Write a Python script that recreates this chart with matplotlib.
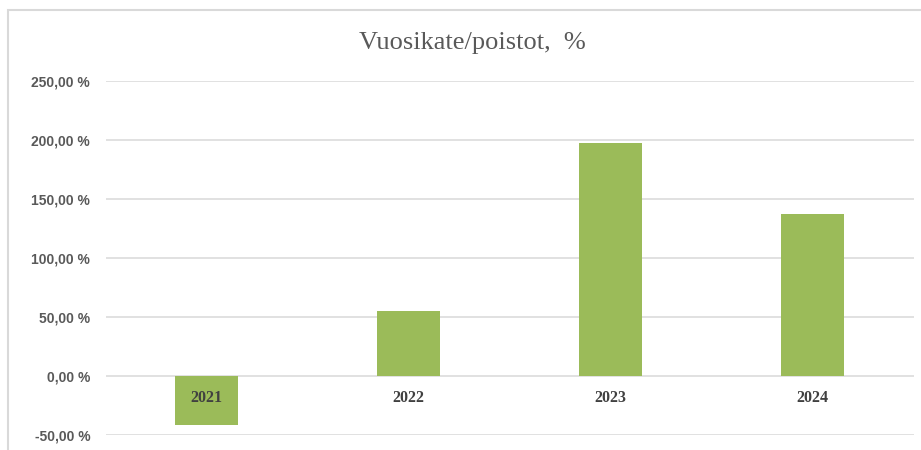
import matplotlib
matplotlib.use('Agg')
import matplotlib.pyplot as plt
from matplotlib.patches import Rectangle
from matplotlib.ticker import FuncFormatter

# data
years = ['2021', '2022', '2023', '2024']
values = [-41.3, 55.1, 197.5, 137.3]
yticks = [-50, 0, 50, 100, 150, 200, 250]
title = 'Vuosikate/poistot,  %'

bar_color = '#9BBB59'
grid_color = '#D9D9D9'
tick_color = '#595959'

fig = plt.figure(figsize=(9.21, 4.5), dpi=100)

# chart area border (cropped at right and bottom in the reference)
fig.patches.append(Rectangle((8 / 921, -0.1), 1.2, 1 - 10 / 450 + 0.1,
                             transform=fig.transFigure, fill=False,
                             edgecolor=grid_color, linewidth=1.5))

ax = fig.add_axes([105.5 / 921, 1 - 435 / 450, 808 / 921, 354 / 450])
x = list(range(len(years)))
ax.bar(x, values, width=0.31, color=bar_color, zorder=3)

ax.set_xlim(-0.5, len(years) - 0.5)
ax.set_ylim(-50, 250)
ax.set_yticks(yticks)
ax.yaxis.set_major_formatter(FuncFormatter(lambda v, p: f'{v:.2f}'.replace('.', ',') + ' %'))
ax.grid(axis='y', color=grid_color, linewidth=1.1, zorder=0)
ax.set_axisbelow(True)

for s in ax.spines.values():
    s.set_visible(False)

# category labels sit just under the zero line, on top of the bars
ax.set_xticks([])
for i, yr in zip(x, years):
    ax.annotate(yr, xy=(i, 0), xytext=(0, -16), textcoords='offset points',
                ha='center', va='center', fontfamily='Liberation Serif',
                fontweight='bold', fontsize=11.5, color='#404040', zorder=5)

ax.tick_params(axis='y', length=0, pad=11, labelcolor=tick_color)
for lbl in ax.get_yticklabels():
    lbl.set_fontfamily('Liberation Sans')
    lbl.set_fontweight('bold')
    lbl.set_fontsize(10)

fig.text(472.5 / 921, 1 - 43 / 450, title, ha='center', va='center',
         fontfamily='Liberation Serif', fontsize=19, color='#595959')

fig.savefig('out.png', dpi=100)
